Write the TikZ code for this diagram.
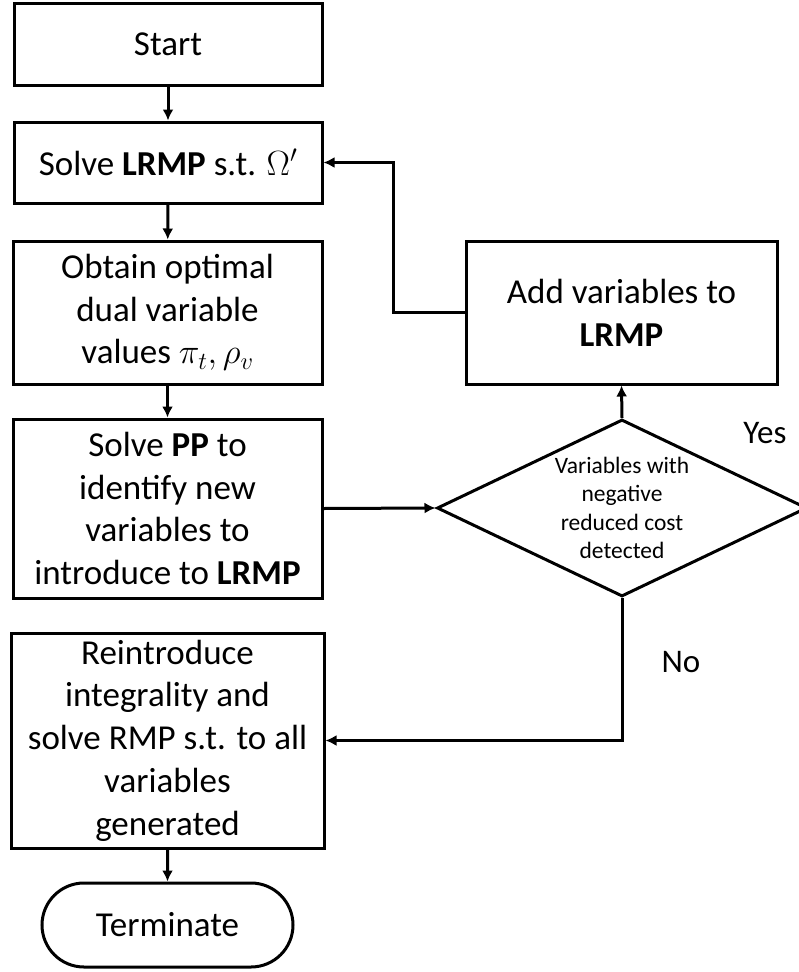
\RequirePackage{fix-cm}
\documentclass[tikz,border=0pt]{standalone}
\usepackage{fontspec}
\setmainfont{Carlito}
\usetikzlibrary{arrows.meta,shapes.geometric,shapes.misc}

\begin{document}
\begin{tikzpicture}[x=1pt,y=-1pt,
  box/.style={draw,line width=3pt,align=center,inner sep=0pt,font=\fontsize{35}{42.7}\selectfont},
  arr/.style={-{Latex[length=11pt,width=11pt]},line width=3pt},
  lbl/.style={font=\fontsize{33}{40}\selectfont}]
\useasboundingbox (0,0) rectangle (798,972);
% Start
\node [box,minimum width=308pt,minimum height=82pt] (start) at (168,44) {Start};
% Solve LRMP
\node [box,minimum width=308pt,minimum height=81pt] (lrmp) at (168,162.5) {Solve \textbf{LRMP} s.t. $\Omega'$};
% Obtain duals
\node [box,minimum width=309pt,minimum height=143pt] (duals) at (167.5,312.5) {Obtain optimal\\dual variable\\values $\pi_t,\rho_v$};
% Solve PP
\node [box,minimum width=309pt,minimum height=179pt] (pp) at (167.5,508.5) {Solve \textbf{PP} to\\identify new\\variables to\\introduce to \textbf{LRMP}};
% Reintroduce integrality
\node [box,minimum width=313pt,minimum height=215pt] (rmp) at (167.5,740.5) {Reintroduce\\integrality and\\solve RMP s.t. to all\\variables\\generated};
% Terminate
\node [box,rounded rectangle,minimum width=251pt,minimum height=84pt] (term) at (167.5,925) {Terminate};
% Add variables
\node [box,minimum width=311pt,minimum height=143pt] (add) at (621.5,312.5) {Add variables to\\\textbf{LRMP}};
% Decision
\node [box,diamond,aspect=2.09,minimum width=370pt,minimum height=177pt,font=\fontsize{23.5}{28.6}\selectfont] (neg) at (622,508) {Variables with\\negative\\reduced cost\\detected};
% Labels "Yes" and "No"
\node [lbl] (yes) at (765,433) {Yes};
\node [lbl] (no) at (681,662) {No};
% Turning point of the loop
\coordinate (back) at (393,312.5);
% Main column
\draw [arr] (start) -- (lrmp);
\draw [arr] (lrmp) -- (duals);
\draw [arr] (duals) -- (pp);
\draw [arr] (rmp) -- (term);
% PP --> decision
\draw [arr] (pp.east) -- (neg.west);
% Yes --> Add
\draw [arr] (neg.north) -- (add.south);
% Add --> LRMP
\draw [arr] (add.west) -- (back) |- (lrmp.east);
% No --> RMP
\draw [arr] (neg.south) |- (rmp.east);
\end{tikzpicture}
\end{document}
